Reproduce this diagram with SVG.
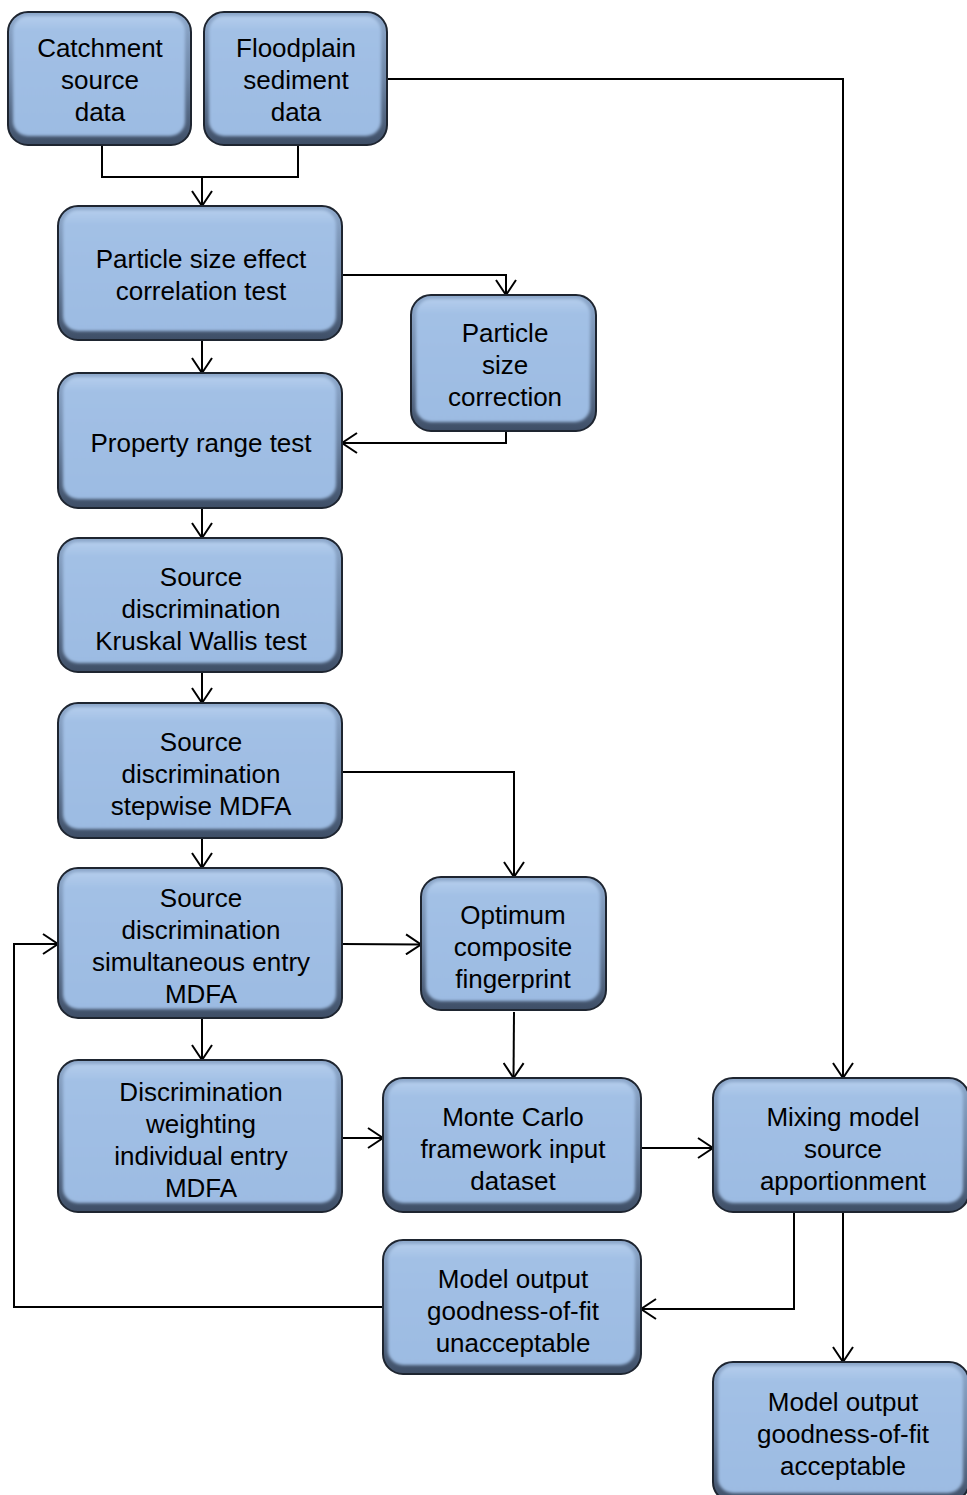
<svg xmlns="http://www.w3.org/2000/svg" width="967" height="1495" viewBox="0 0 967 1495">
<defs>
<linearGradient id="edge" x1="0" y1="0" x2="0" y2="1">
<stop offset="0" stop-color="#8ea9cc"/>
<stop offset="0.5" stop-color="#6e86a6"/>
<stop offset="1" stop-color="#3e4e66"/>
</linearGradient>
<linearGradient id="face" x1="0" y1="0" x2="0" y2="1">
<stop offset="0" stop-color="#b4cdec"/>
<stop offset="0.12" stop-color="#a2c0e5"/>
<stop offset="1" stop-color="#9cbbe2"/>
</linearGradient>
<filter id="soft" x="-5%" y="-5%" width="110%" height="110%">
<feGaussianBlur stdDeviation="1.8"/>
</filter>
<marker id="arr" viewBox="0 0 18 22" refX="16" refY="11" markerWidth="18" markerHeight="22" markerUnits="userSpaceOnUse" orient="auto">
<path d="M1,1 L16,11 L1,21" fill="none" stroke="#000" stroke-width="2"/>
</marker>
</defs>
<style>
.o{fill:url(#edge);stroke:#1e2530;stroke-width:2}
.i{fill:url(#face);filter:url(#soft)}
text{font-family:"Liberation Sans",Arial,sans-serif;font-size:26px;fill:#000;text-anchor:middle}
.c{fill:none;stroke:#000;stroke-width:2}
.a{marker-end:url(#arr)}
</style>
<rect width="967" height="1495" fill="#fff"/>
<g id="connectors">
<path class="c" d="M102,145 V177 H298 V145"/>
<path class="c a" d="M202,177 V206"/>
<path class="c a" d="M387,79 H843 V1078"/>
<path class="c a" d="M342,275 H506 V295"/>
<path class="c a" d="M506,431 V443 H342"/>
<path class="c a" d="M202,340 V373"/>
<path class="c a" d="M202,508 V538"/>
<path class="c a" d="M202,672 V703"/>
<path class="c a" d="M202,838 V868"/>
<path class="c a" d="M202,1018 V1060"/>
<path class="c a" d="M342,772 H514 V877"/>
<path class="c a" d="M342,944 L421,944.5"/>
<path class="c a" d="M514,1012 L513.5,1078"/>
<path class="c a" d="M336,1138 H383"/>
<path class="c a" d="M641,1148 H713"/>
<path class="c a" d="M794,1213 V1309 H641"/>
<path class="c a" d="M843,1213 V1362"/>
<path class="c a" d="M388,1307 H14 V944 H58"/>
</g>
<g id="n1"><rect class="o" x="8" y="12" width="183" height="133" rx="20"/><rect class="i" x="13" y="16" width="172" height="120" rx="15"/>
<text x="100" y="57">Catchment</text><text x="100" y="89">source</text><text x="100" y="121">data</text></g>
<g id="n2"><rect class="o" x="204" y="12" width="183" height="133" rx="20"/><rect class="i" x="209" y="16" width="172" height="120" rx="15"/>
<text x="296" y="57">Floodplain</text><text x="296" y="89">sediment</text><text x="296" y="121">data</text></g>
<g id="n3"><rect class="o" x="58" y="206" width="284" height="134" rx="20"/><rect class="i" x="63" y="210" width="273" height="121" rx="15"/>
<text x="201" y="268">Particle size effect</text><text x="201" y="300">correlation test</text></g>
<g id="n4"><rect class="o" x="411" y="295" width="185" height="136" rx="20"/><rect class="i" x="416" y="299" width="174" height="123" rx="15"/>
<text x="505" y="342">Particle</text><text x="505" y="374">size</text><text x="505" y="406">correction</text></g>
<g id="n5"><rect class="o" x="58" y="373" width="284" height="135" rx="20"/><rect class="i" x="63" y="377" width="273" height="122" rx="15"/>
<text x="201" y="452">Property range test</text></g>
<g id="n6"><rect class="o" x="58" y="538" width="284" height="134" rx="20"/><rect class="i" x="63" y="542" width="273" height="121" rx="15"/>
<text x="201" y="586">Source</text><text x="201" y="618">discrimination</text><text x="201" y="650">Kruskal Wallis test</text></g>
<g id="n7"><rect class="o" x="58" y="703" width="284" height="135" rx="20"/><rect class="i" x="63" y="707" width="273" height="122" rx="15"/>
<text x="201" y="751">Source</text><text x="201" y="783">discrimination</text><text x="201" y="815">stepwise MDFA</text></g>
<g id="n8"><rect class="o" x="58" y="868" width="284" height="150" rx="20"/><rect class="i" x="63" y="872" width="273" height="137" rx="15"/>
<text x="201" y="907">Source</text><text x="201" y="939">discrimination</text><text x="201" y="971">simultaneous entry</text><text x="201" y="1003">MDFA</text></g>
<g id="n9"><rect class="o" x="421" y="877" width="185" height="133" rx="20"/><rect class="i" x="426" y="881" width="174" height="120" rx="15"/>
<text x="513" y="924">Optimum</text><text x="513" y="956">composite</text><text x="513" y="988">fingerprint</text></g>
<g id="n10"><rect class="o" x="58" y="1060" width="284" height="152" rx="20"/><rect class="i" x="63" y="1064" width="273" height="139" rx="15"/>
<text x="201" y="1101">Discrimination</text><text x="201" y="1133">weighting</text><text x="201" y="1165">individual entry</text><text x="201" y="1197">MDFA</text></g>
<g id="n11"><rect class="o" x="383" y="1078" width="258" height="134" rx="20"/><rect class="i" x="388" y="1082" width="247" height="121" rx="15"/>
<text x="513" y="1126">Monte Carlo</text><text x="513" y="1158">framework input</text><text x="513" y="1190">dataset</text></g>
<g id="n12"><rect class="o" x="713" y="1078" width="256" height="134" rx="20"/><rect class="i" x="718" y="1082" width="245" height="121" rx="15"/>
<text x="843" y="1126">Mixing model</text><text x="843" y="1158">source</text><text x="843" y="1190">apportionment</text></g>
<g id="n13"><rect class="o" x="383" y="1240" width="258" height="134" rx="20"/><rect class="i" x="388" y="1244" width="247" height="121" rx="15"/>
<text x="513" y="1288">Model output</text><text x="513" y="1320">goodness-of-fit</text><text x="513" y="1352">unacceptable</text></g>
<g id="n14"><rect class="o" x="713" y="1362" width="256" height="140" rx="20"/><rect class="i" x="718" y="1366" width="245" height="127" rx="15"/>
<text x="843" y="1411">Model output</text><text x="843" y="1443">goodness-of-fit</text><text x="843" y="1475">acceptable</text></g>
</svg>
